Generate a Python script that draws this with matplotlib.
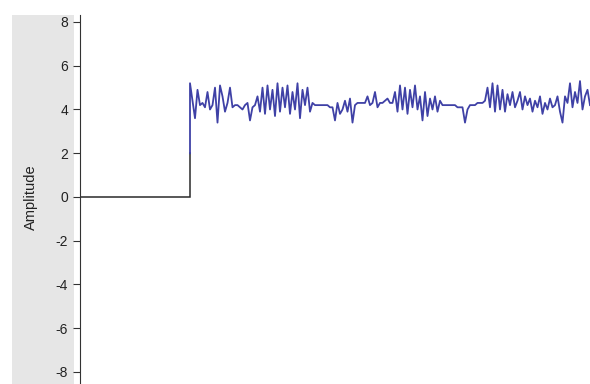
import numpy as np
import matplotlib
matplotlib.use("Agg")
import matplotlib.pyplot as plt
from matplotlib.patches import Rectangle

plt.rcParams["font.family"] = ["Liberation Sans", "DejaVu Sans"]

# Amplitude trace: quiet baseline, then a step onto a noisy plateau
baseline_level = 0.0
baseline_samples = 45
onset_level = 2.0
plateau = [
    5.2, 4.4, 3.6, 4.9, 4.2, 4.3, 4.1, 4.8, 4.0, 4.2, 5.0, 3.4, 5.1, 4.6, 3.9, 4.3, 5.0, 4.1,
    4.2, 4.2, 4.1, 4.0, 4.2, 4.3, 3.5, 4.1, 4.2,
    4.6, 3.9, 5.0, 3.8, 5.1, 4.0, 4.9, 3.7, 5.2, 3.9, 5.0, 4.1, 5.1, 3.8, 4.8, 4.0, 5.2, 3.6,
    4.9, 4.2, 5.0, 3.9, 4.3, 4.2,
    4.2, 4.2, 4.2, 4.2, 4.2, 4.1, 4.1,
    3.5, 4.3, 3.8, 4.0, 4.4, 3.9, 4.5, 3.4, 4.2, 4.3,
    4.3, 4.3, 4.3, 4.6, 4.2, 4.3, 4.8, 4.1, 4.3, 4.3, 4.4, 4.5, 4.3, 4.3,
    4.8, 3.9, 5.1, 4.0, 5.0, 3.8, 4.9, 4.1, 5.1, 4.0,
    4.6, 3.5, 4.8, 3.7, 4.5, 4.0, 4.6, 3.9, 4.4, 4.2,
    4.2, 4.2, 4.2, 4.2, 4.2, 4.1, 4.1, 4.1,
    3.4, 4.0, 4.2, 4.2, 4.2, 4.3, 4.3, 4.3, 4.4,
    5.0, 4.1, 5.2, 3.9, 5.1, 4.0, 4.9, 3.9, 4.7, 4.2, 4.8, 4.1, 4.4,
    4.8, 4.0, 4.6, 4.2, 4.5, 3.9, 4.4, 4.1, 4.6, 3.8, 4.3, 4.0, 4.5, 4.1, 4.2, 4.6, 3.9, 3.4,
    4.6, 4.3, 5.2, 4.1, 4.8, 4.3, 5.3, 4.0, 4.6, 4.9, 4.2,
]
y_ticks = [-8, -6, -4, -2, 0, 2, 4, 6, 8]
y_label = "Amplitude"

W, H = 590, 384
fig = plt.figure(figsize=(W / 100, H / 100), dpi=100)
fig.patch.set_facecolor("white")

# grey label panel on the left
fig.add_artist(Rectangle((12 / W, 0), 62 / W, (H - 15) / H, transform=fig.transFigure,
                         facecolor="#e6e6e6", edgecolor="none", zorder=0))

ax = fig.add_axes([80 / W, 0, 510 / W, (H - 15) / H])
ax.set_facecolor("none")

t_base = np.arange(baseline_samples)
onset_t = t_base[-1]
base_y = np.append(np.full(baseline_samples, baseline_level), onset_level)
base_t = np.append(t_base, onset_t)
ax.plot(base_t, base_y, color="#2a2a2a", lw=1.1, solid_joinstyle="miter")

sig_t = np.concatenate([[onset_t], onset_t + np.arange(len(plateau))])
sig_y = np.concatenate([[onset_level], plateau])
ax.plot(sig_t, sig_y, color="#3f41a6", lw=1.3)

ax.set_xlim(0, 204)
ax.set_ylim(-8.55, 8.32)
ax.set_yticks(y_ticks)
ax.set_yticklabels([str(v) for v in y_ticks], fontsize=10, color="#222222")
ax.tick_params(axis="y", direction="out", length=5, width=0.8, color="#333333", pad=3.5)
ax.set_xticks([])
for s in ("top", "right", "bottom"):
    ax.spines[s].set_visible(False)
ax.spines["left"].set_color("#333333")
ax.spines["left"].set_linewidth(0.8)

fig.text(31 / W, 1 - 197 / H, y_label, rotation=90, ha="center", va="center",
         fontsize=10.5, color="#222222")

fig.savefig("out.png", dpi=100)
